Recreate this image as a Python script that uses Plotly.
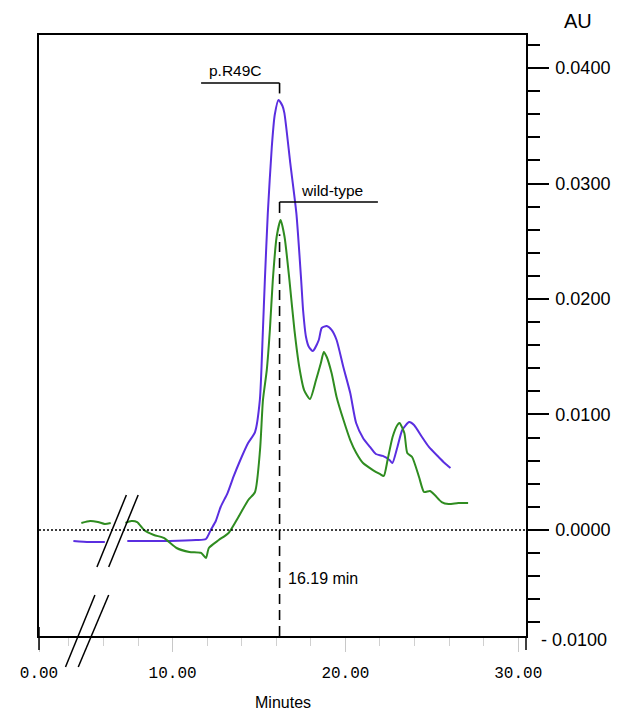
import plotly.graph_objects as go

# ---------------- data (minutes, AU) ----------------
blue_pre_min = [4.26, 5.17, 6.08]
blue_pre_au = [-0.00095, -0.00104, -0.00104]
blue_min = [7.38, 8.52, 9.83, 11.36, 11.93, 12.21, 12.50, 12.78, 13.18, 13.52, 13.92, 14.37,
            14.77, 15.05, 15.22, 15.34, 15.51, 15.74, 15.91, 16.13, 16.36, 16.47, 16.81, 17.16,
            17.44, 17.55, 17.72, 17.89, 18.12, 18.46, 18.63, 18.92, 19.20, 19.49, 19.88, 20.28,
            20.62, 21.02, 21.42, 21.76, 22.16, 22.55, 22.72, 23.01, 23.29, 23.69, 23.97, 24.43,
            24.83, 25.39, 25.74, 26.08]
blue_au = [-0.00095, -0.00095, -0.00095, -0.00087, -0.00078, 0.0, 0.00078, 0.00199, 0.00320,
           0.00459, 0.00606, 0.00753, 0.00848, 0.01126, 0.01706, 0.02165, 0.02745, 0.03316,
           0.03593, 0.03723, 0.03671, 0.03610, 0.03177, 0.02745, 0.02165, 0.01905, 0.01671,
           0.01584, 0.01550, 0.01645, 0.01749, 0.01766, 0.01732, 0.01645, 0.01411, 0.01186,
           0.00926, 0.00797, 0.00719, 0.00658, 0.00641, 0.00606, 0.00580, 0.00719, 0.00866,
           0.00935, 0.00909, 0.00805, 0.00719, 0.00632, 0.00580, 0.00537]

green_pre_min = [4.72, 5.23, 5.68, 6.08, 6.42]
green_pre_au = [0.00061, 0.00078, 0.00069, 0.00052, 0.00061]
green_min = [7.27, 7.61, 7.95, 8.35, 8.92, 9.49, 10.23, 10.97, 11.65, 11.93, 12.10, 12.67, 13.24,
             13.81, 14.38, 14.77, 15.06, 15.23, 15.45, 15.63, 15.80, 16.02, 16.25, 16.48, 16.76,
             17.05, 17.33, 17.61, 17.95, 18.30, 18.58, 18.75, 18.92, 19.20, 19.49, 19.89, 20.28,
             20.63, 21.02, 21.59, 21.99, 22.22, 22.44, 22.73, 23.01, 23.13, 23.41, 23.58, 23.86,
             24.26, 24.55, 24.89, 25.17, 25.57, 25.97, 26.53, 27.10]
green_au = [0.00061, 0.00078, 0.00069, 0.0, -0.00043, -0.00069, -0.00156, -0.00190, -0.00199,
            -0.00242, -0.00156, -0.00087, -0.00026, 0.00113, 0.00260, 0.00329, 0.00693, 0.01126,
            0.01385, 0.01732, 0.02165, 0.02537, 0.02684, 0.02537, 0.02165, 0.01732, 0.01411,
            0.01212, 0.01134, 0.01299, 0.01446, 0.01541, 0.01498, 0.01359, 0.01152, 0.00952,
            0.00779, 0.00667, 0.00580, 0.00519, 0.00485, 0.00468, 0.00606, 0.00805, 0.00909,
            0.00926, 0.00840, 0.00667, 0.00632, 0.00459, 0.00329, 0.00338, 0.00303, 0.00242,
            0.00225, 0.00234, 0.00234]

peak_min = 16.19
x_tick_pos = [2.27, 10, 20, 30]
x_tick_text = ["0.00", "10.00", "20.00", "30.00"]
y_tick_vals = [0.0, 0.01, 0.02, 0.03, 0.04]
y_tick_text = ["0.0000", "0.0100", "0.0200", "0.0300", "0.0400"]
x_range = [2.27, 30.45]
y_range = [-0.00918, 0.04286]

BLUE = "#5a2ee0"
GREEN = "#2f8c20"
SANS = "Liberation Sans, Arial, sans-serif"

fig = go.Figure()
fig.add_trace(go.Scatter(x=blue_pre_min + [None] + blue_min, y=blue_pre_au + [None] + blue_au,
                         mode="lines", line=dict(color=BLUE, width=2, shape="spline", smoothing=0.6),
                         connectgaps=False, hoverinfo="skip", showlegend=False))
fig.add_trace(go.Scatter(x=green_pre_min + [None] + green_min, y=green_pre_au + [None] + green_au,
                         mode="lines", line=dict(color=GREEN, width=2, shape="spline", smoothing=0.6),
                         connectgaps=False, hoverinfo="skip", showlegend=False))

shapes = []
# dotted zero baseline
shapes.append(dict(type="line", xref="paper", yref="y", x0=0, x1=1, y0=0, y1=0,
                   line=dict(color="black", width=1.5, dash="2px,2px")))
# dashed retention-time line
shapes.append(dict(type="line", xref="x", yref="paper", x0=peak_min, x1=peak_min,
                   y0=0, y1=0.6685, line=dict(color="black", width=1.6, dash="10px,6px")))
# p.R49C bracket
shapes.append(dict(type="line", xref="x", yref="y", x0=11.65, x1=peak_min, y0=0.0387, y1=0.0387,
                   line=dict(color="black", width=1.6)))
shapes.append(dict(type="line", xref="x", yref="y", x0=peak_min, x1=peak_min, y0=0.0387, y1=0.0378,
                   line=dict(color="black", width=1.6)))
# wild-type bracket
shapes.append(dict(type="line", xref="x", yref="y", x0=peak_min, x1=21.88, y0=0.0284, y1=0.0284,
                   line=dict(color="black", width=1.6)))
shapes.append(dict(type="line", xref="x", yref="y", x0=peak_min, x1=peak_min, y0=0.0284, y1=0.02745,
                   line=dict(color="black", width=1.6)))
# axis end ticks
shapes.append(dict(type="line", xref="paper", yref="paper", x0=0, x1=0, y0=0.015, y1=-0.0233,
                   line=dict(color="black", width=1.5)))
shapes.append(dict(type="line", xref="paper", yref="paper", x0=1, x1=1, y0=0, y1=-0.0233,
                   line=dict(color="black", width=1.5)))
# axis break marks
for (x0, y0, x1, y1) in [(0.1190, 0.1148, 0.1794, 0.2346), (0.1431, 0.1148, 0.2036, 0.2346),
                         (0.0544, -0.0516, 0.1149, 0.0682), (0.0806, -0.0516, 0.1431, 0.0682)]:
    shapes.append(dict(type="line", xref="paper", yref="paper", x0=x0, y0=y0, x1=x1, y1=y1,
                       line=dict(color="black", width=1.5)))

annotations = [
    dict(text="p.R49C", x=13.64, y=0.0398, xref="x", yref="y", showarrow=False,
         font=dict(family=SANS, size=15.5, color="black")),
    dict(text="wild-type", x=19.20, y=0.0294, xref="x", yref="y", showarrow=False,
         font=dict(family=SANS, size=15.5, color="black")),
    dict(text="16.19 min", x=16.55, y=-0.00416, xref="x", yref="y", showarrow=False,
         xanchor="left", font=dict(family=SANS, size=16, color="black")),
    dict(text="- 0.0100", x=1.026, y=-0.0067, xref="paper", yref="paper", showarrow=False,
         xanchor="left", yanchor="middle", font=dict(family=SANS, size=18, color="black")),
    dict(text="AU", x=1.107, y=1.0233, xref="paper", yref="paper", showarrow=False,
         xanchor="center", yanchor="middle", font=dict(family=SANS, size=20, color="black")),
    dict(text="Minutes", x=0.502, y=-0.110, xref="paper", yref="paper", showarrow=False,
         xanchor="center", yanchor="middle", font=dict(family=SANS, size=16, color="black")),
]

# the page body has an 8px default margin, so the figure is sized 8px smaller
fig.update_layout(
    width=619, height=707,
    margin=dict(l=22, r=101, t=27, b=79),
    paper_bgcolor="white", plot_bgcolor="white",
    shapes=shapes, annotations=annotations,
    xaxis=dict(range=x_range, tickvals=x_tick_pos, ticktext=x_tick_text,
               ticks="outside", ticklen=14, tickwidth=1, tickcolor="#c8c8c8",
               minor=dict(dtick=2, tick0=0, ticks="outside", ticklen=8, tickwidth=1,
                          tickcolor="#d0d0d0"),
               ticklabelstandoff=7,
               tickfont=dict(family="Liberation Mono, DejaVu Sans Mono, monospace", size=16,
                             color="black"),
               showline=True, linecolor="black", linewidth=1.5, mirror=True,
               showgrid=False, zeroline=False),
    yaxis=dict(range=y_range, side="right", tickvals=y_tick_vals, ticktext=y_tick_text,
               ticks="outside", ticklen=21, tickwidth=2, tickcolor="black",
               minor=dict(dtick=0.002, tick0=0, ticks="outside", ticklen=12, tickwidth=2,
                          tickcolor="black"),
               ticklabelstandoff=3,
               tickfont=dict(family=SANS, size=18, color="black"),
               showline=True, linecolor="black", linewidth=1.5, mirror=True,
               showgrid=False, zeroline=False),
)

fig.write_html("out.html")
